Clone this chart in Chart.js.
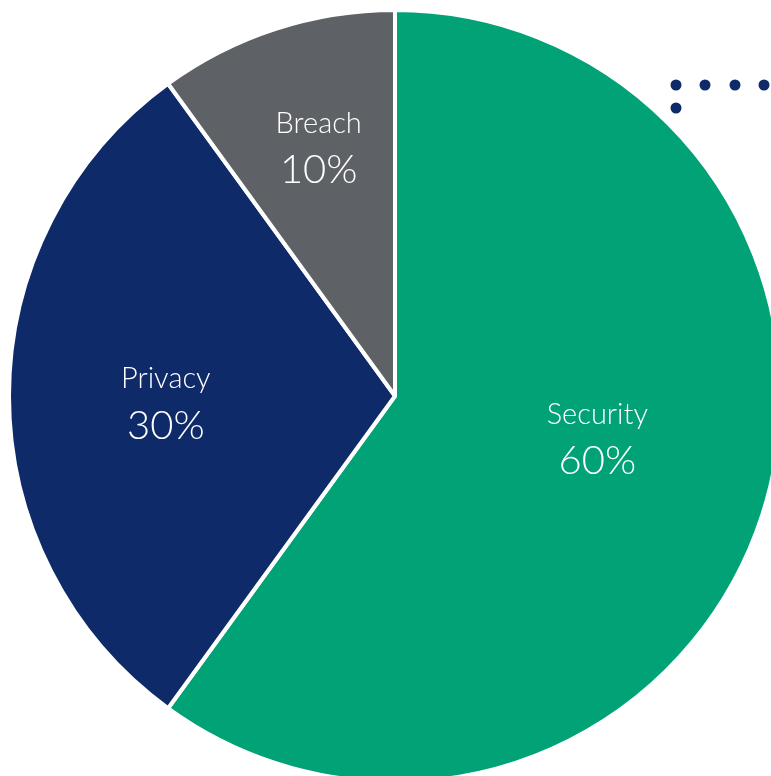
<!DOCTYPE html>
<html>
<head>
<meta charset="utf-8">
<script src="https://cdn.jsdelivr.net/npm/chart.js@4/dist/chart.umd.min.js"></script>
<style>
  html, body { margin: 0; padding: 0; background: #fff; overflow: hidden; }
  #wrap { position: absolute; left: 0; top: 0; }
</style>
</head>
<body>
<div id="wrap"><canvas id="pieChart" width="790" height="792"></canvas></div>
<script>
// Pie data
const categories = ['Security', 'Privacy', 'Breach'];
const shares = [60, 30, 10];
const sliceColors = ['#00a276', '#0e2a69', '#5e6266'];

// where each label sits: fraction of radius + angle tweak from slice middle (deg)
const labelSpots = [
    { r: 0.535, turn: -6.5 },
    { r: 0.594, turn: -1.5 },
    { r: 0.676, turn: 1.0 }
];

// Slice labels
const sliceLabels = {
    id: 'sliceLabels',
    afterDatasetsDraw(chart) {
        const ctx = chart.ctx;
        const arcs = chart.getDatasetMeta(0).data;
        ctx.save();
        ctx.fillStyle = '#ffffff';
        ctx.textAlign = 'center';
        ctx.textBaseline = 'middle';
        arcs.forEach((arc, i) => {
            const p = arc.getProps(['x', 'y', 'startAngle', 'endAngle', 'outerRadius']);
            const spot = labelSpots[i];
            const mid = (p.startAngle + p.endAngle) / 2 + spot.turn * Math.PI / 180;
            const r = p.outerRadius * spot.r;
            const cx = p.x + Math.cos(mid) * r;
            const cy = p.y + Math.sin(mid) * r;
            ctx.font = '300 29px Lato, "Open Sans", sans-serif';
            ctx.fillText(categories[i], cx, cy - 23);
            ctx.font = '300 40px Lato, "Open Sans", sans-serif';
            ctx.fillText(shares[i] + '%', cx, cy + 24);
        });
        ctx.restore();
    }
};

// Decorative dots, top right
const cornerDots = {
    id: 'cornerDots',
    afterDraw(chart) {
        const ctx = chart.ctx;
        const dots = [[676, 85], [705, 85], [735, 85], [764, 85], [676, 108]];
        ctx.save();
        ctx.fillStyle = '#0e2a69';
        dots.forEach(([x, y]) => {
            ctx.beginPath();
            ctx.arc(x, y, 5.5, 0, Math.PI * 2);
            ctx.fill();
        });
        ctx.restore();
    }
};

// Render Pie Chart
const pieChartCtx = document.getElementById('pieChart').getContext('2d');
new Chart(pieChartCtx, {
    type: 'pie',
    data: {
        labels: categories,
        datasets: [{
            data: shares,
            backgroundColor: sliceColors,
            borderColor: '#ffffff',
            borderWidth: 4,
            radius: 386
        }]
    },
    options: {
        responsive: false,
        devicePixelRatio: 1,
        animation: false,
        layout: { padding: 0 },
        plugins: {
            legend: { display: false },
            tooltip: { enabled: false }
        }
    },
    plugins: [sliceLabels, cornerDots]
});
</script>
</body>
</html>
